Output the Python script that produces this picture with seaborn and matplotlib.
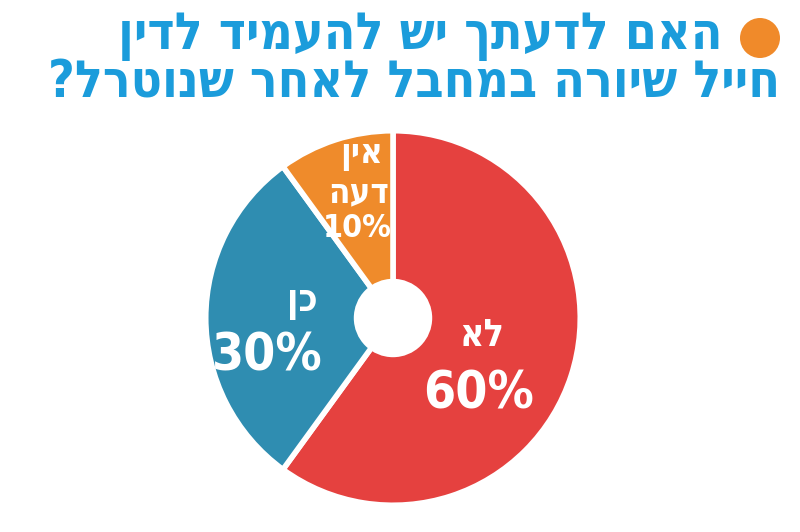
import matplotlib
matplotlib.use("Agg")
import matplotlib.pyplot as plt
import seaborn as sns
from matplotlib.patches import Circle

sns.set_theme(style="white")
plt.rcParams['font.family'] = ['DejaVu Sans']

# Data
categories = ["לא", "כן", "אין דעה"]
values = [60, 30, 10]
pct_labels = ["60%", "30%", "10%"]
colors = ["#E5413F", "#2F8DB1", "#EF8B2B"]

title_lines = ["האם לדעתך יש להעמיד לדין", "חייל שיורה במחבל לאחר שנוטרל?"]

def rtl(s):
    return s[::-1]

fig = plt.figure(figsize=(8.0, 5.32), dpi=100)
W, H = 800, 532
cx, cy, R = 393, 318, 191
ax = fig.add_axes([(cx - R) / W, (H - cy - R) / H, 2 * R / W, 2 * R / H])
ax.pie(values, colors=colors, startangle=90, counterclock=False, radius=1.0,
       wedgeprops=dict(edgecolor="white", linewidth=4))
ax.add_patch(Circle((0, 0), 40 / R, facecolor="white", edgecolor="none", zorder=5))
ax.set_xlim(-1.02, 1.02)
ax.set_ylim(-1.02, 1.02)
ax.set_aspect("equal")
ax.axis("off")

def d(px, py):
    return ((px - cx) / R * 1.0, (cy - py) / R * 1.0)

txt = dict(color="white", fontweight="bold", ha="center", va="center", fontstretch="condensed")
# 60%
ax.text(*d(483, 336), rtl(categories[0]), fontsize=27, **txt)
ax.text(*d(480, 396), pct_labels[0], fontsize=37, **txt)
# 30%
ax.text(*d(300, 302), rtl(categories[1]), fontsize=27, **txt)
ax.text(*d(265, 357), pct_labels[1], fontsize=37, **txt)
# 10%
w1, w2 = categories[2].split(" ")
ax.text(*d(361, 151), rtl(w1), fontsize=25, **txt)
ax.text(*d(358, 190), rtl(w2), fontsize=25, **txt)
ax.text(*d(356, 227), pct_labels[2], fontsize=23, **txt)

# Title
tcol = "#1B9CDB"
fig.text(722 / W, 1 - 36 / H, rtl(title_lines[0]), color=tcol, fontsize=37, fontweight="bold",
         ha="right", va="center", fontstretch="condensed")
fig.text(780 / W, 1 - 83 / H, rtl(title_lines[1]), color=tcol, fontsize=37, fontweight="bold",
         ha="right", va="center", fontstretch="condensed")
dot_ax = fig.add_axes([0, 0, 1, 1], zorder=-1)
dot_ax.set_xlim(0, W)
dot_ax.set_ylim(H, 0)
dot_ax.axis("off")
dot_ax.add_patch(Circle((760, 38), 20, facecolor="#F08A2A", edgecolor="none"))

fig.savefig("out.png", dpi=100, facecolor="white")
